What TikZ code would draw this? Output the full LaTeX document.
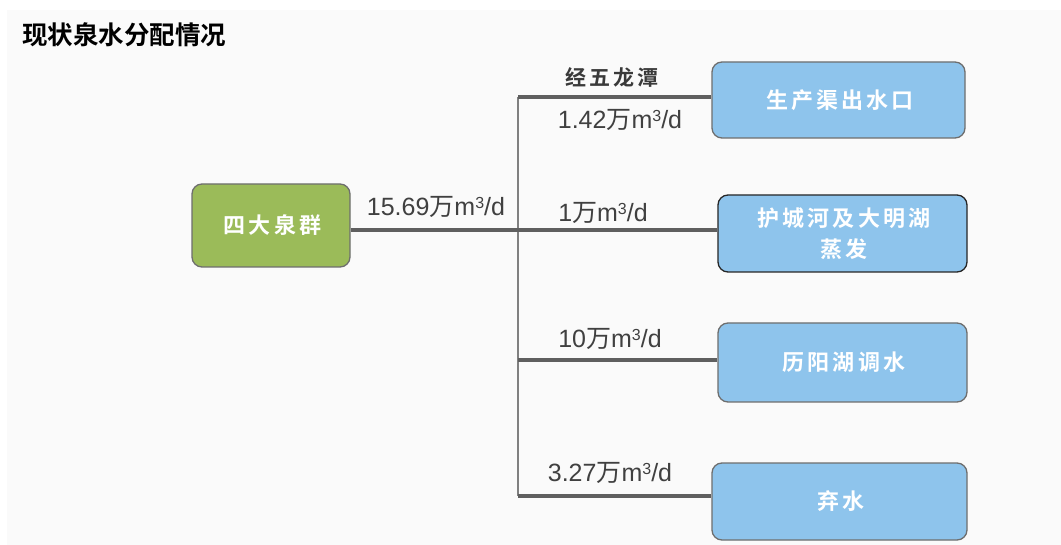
\documentclass[tikz,border=0pt]{standalone}
\usepackage{fontspec}
\setmainfont{Liberation Sans}
\newfontfamily\cjk{Noto Sans CJK SC}[BoldFont={* Bold}]
\newfontfamily\cjksp{Noto Sans CJK SC}[BoldFont={* Bold}, LetterSpace=14]
\definecolor{bgc}{HTML}{FAFAFA}
\definecolor{greenfill}{HTML}{9BBB59}
\definecolor{bluefill}{HTML}{8EC4EC}
\definecolor{boxline}{HTML}{6E6E6E}
\definecolor{trunk}{HTML}{5F5F5F}
\definecolor{vline}{HTML}{808080}
\definecolor{labc}{HTML}{404040}
\tikzset{
  boxn/.style={draw=boxline, line width=1.3pt, rounded corners=10pt, fill=bluefill, text=white,
    font=\cjksp\bfseries\fontsize{22}{26}\selectfont, align=center, inner sep=0pt},
  branch/.style={draw=trunk, line width=4pt},
  lab/.style={text=labc, font=\fontsize{25}{28}\selectfont, inner sep=0pt},
}
\newcommand{\wan}{{\cjk 万}}
\newcommand{\mcu}{m\raisebox{0.55ex}{\fontsize{16}{18}\selectfont 3}/d}
\begin{document}
\begin{tikzpicture}[x=1pt,y=-1pt]
\useasboundingbox (0,0) rectangle (1061,545);
\fill[white] (0,0) rectangle (1061,545);
\fill[bgc] (7,10) rectangle (1061,545);
\node[anchor=west, font=\cjk\bfseries\fontsize{25.5}{28}\selectfont, text=black, inner sep=0pt] (title) at (22,35) {现状泉水分配情况};

\node[draw=boxline, line width=1.3pt, rounded corners=10pt, fill=greenfill, text=white,
  font=\cjksp\bfseries\fontsize{22}{26}\selectfont, minimum width=158pt, minimum height=83pt, inner sep=0pt]
  (src) at (271,225.5) {\hspace{3pt}四大泉群};

\node[boxn, minimum width=253pt, minimum height=76pt] (b1) at (838.5,100) {\hspace{3pt}生产渠出水口};
\node[boxn, draw=black!85, minimum width=249pt, minimum height=77pt] (b2) at (842.5,233.5) {\hspace{3pt}护城河及大明湖\\[5pt]\hspace{3pt}蒸发};
\node[boxn, minimum width=249pt, minimum height=79pt] (b3) at (842.5,362.5) {\hspace{3pt}历阳湖调水};
\node[boxn, minimum width=255pt, minimum height=77pt] (b4) at (839.5,501.5) {\hspace{3pt}弃水};

\coordinate (top) at (518,97);
\coordinate (j) at (518,230);
\coordinate (m3) at (518,360);
\coordinate (bot) at (518,496);

\draw[vline, line width=2.6pt] (top) -- (bot);
\draw[branch] (src.east |- j) -- (j) -- (b2.west |- j);
\draw[branch] (top) -- (b1.west |- top);
\draw[branch] (m3) -- (b3.west |- m3);
\draw[branch] (bot) -- (b4.west |- bot);

\node[font=\cjksp\bfseries\fontsize{21}{24}\selectfont, text=labc!90!black, inner sep=0pt] (l0) at (612,77) {经五龙潭};
\node[lab] (l1) at (620,120) {1.42\wan\mcu};
\node[lab] (l2) at (436,207) {15.69\wan\mcu};
\node[lab] (l3) at (603,213) {1\wan\mcu};
\node[lab] (l4) at (610,339) {10\wan\mcu};
\node[lab] (l5) at (610,473) {3.27\wan\mcu};
\end{tikzpicture}
\end{document}
